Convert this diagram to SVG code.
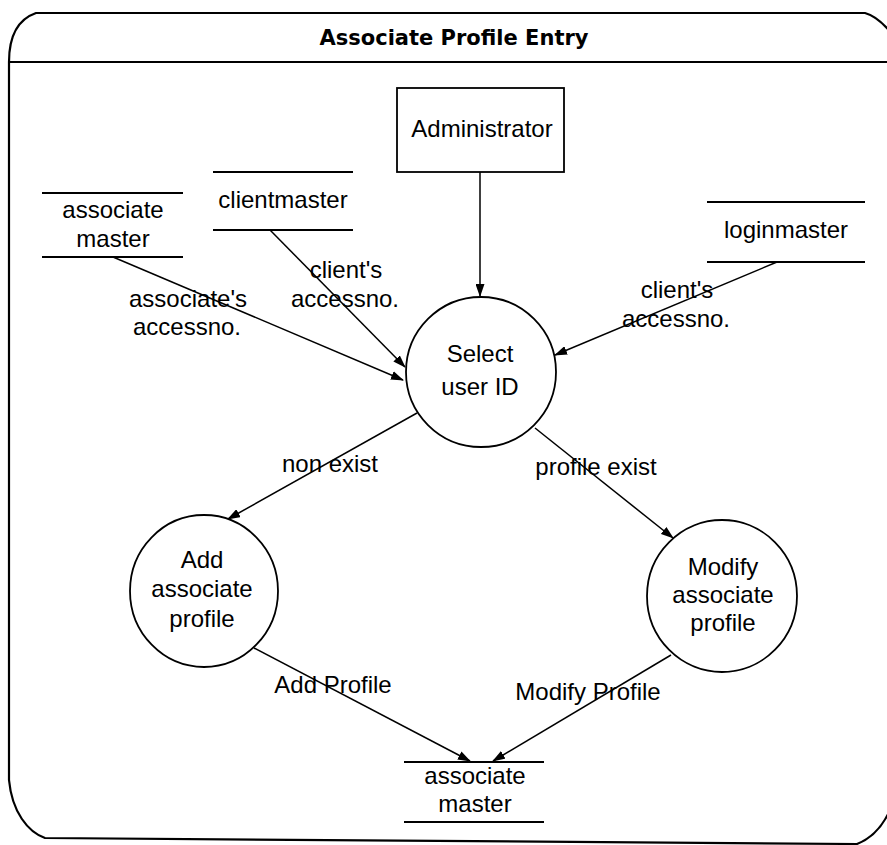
<svg xmlns="http://www.w3.org/2000/svg" width="887" height="845" viewBox="0 0 887 845">
  <style>
    .frame { fill: none; stroke: #000; stroke-width: 2.2; }
    .edge { fill: none; stroke: #000; stroke-width: 1.5; marker-end: url(#arrow); }
    .shape { fill: #fff; stroke: #000; stroke-width: 1.8; }
    .rule { stroke: #000; stroke-width: 1.8; }
    .title { font-family: "DejaVu Sans", Verdana, sans-serif; font-weight: bold; font-size: 21px; text-anchor: middle; fill: #000; }
    .t { font-family: "Liberation Sans", Arial, sans-serif; font-size: 24px; text-anchor: middle; fill: #000; }
  </style>
  <defs>
    <marker id="arrow" markerUnits="userSpaceOnUse" markerWidth="13" markerHeight="9" refX="12" refY="4.5" orient="auto">
      <path d="M0,0 L13,4.5 L0,9 Z" fill="#000"/>
    </marker>
  </defs>
  <rect width="887" height="845" fill="#fff"/>

  <!-- outer rounded frame and title band -->
  <g id="frame">
    <path class="frame" d="M9,780 L9,62 C9,40 16,20 36,13 L865,13 C876,16 884,24 892,34 L892,805 C884,826 872,838 857,844 L45,838 C28,832 12,812 9,780 Z"/>
    <line class="frame" x1="9" y1="62" x2="887" y2="62"/>
    <text class="title" x="454" y="45">Associate Profile Entry</text>
  </g>

  <!-- connectors -->
  <g id="connectors">
    <line class="edge" x1="480" y1="172" x2="480" y2="296"/>
    <line class="edge" x1="113" y1="257" x2="403" y2="380"/>
    <line class="edge" x1="270" y1="230" x2="405" y2="367"/>
    <line class="edge" x1="777" y1="262" x2="555" y2="355"/>
    <line class="edge" x1="417" y1="413" x2="228" y2="519"/>
    <line class="edge" x1="535" y1="428" x2="673" y2="538"/>
    <line class="edge" x1="254" y1="648" x2="470" y2="761"/>
    <line class="edge" x1="671" y1="655" x2="493" y2="761"/>
    <text class="t" x="188" y="307">associate's</text>
    <text class="t" x="187" y="335">accessno.</text>
    <text class="t" x="346" y="278">client's</text>
    <text class="t" x="345" y="307">accessno.</text>
    <text class="t" x="677" y="298">client's</text>
    <text class="t" x="676" y="327">accessno.</text>
    <text class="t" x="330" y="472">non exist</text>
    <text class="t" x="596" y="475">profile exist</text>
    <text class="t" x="333" y="693">Add Profile</text>
    <text class="t" x="588" y="700">Modify Profile</text>
  </g>

  <!-- external entity -->
  <g id="administrator">
    <rect class="shape" x="397" y="88" width="167" height="84"/>
    <text class="t" x="482" y="137">Administrator</text>
  </g>

  <!-- data stores -->
  <g id="store-associate-master-top">
    <line class="rule" x1="42" y1="193" x2="183" y2="193"/>
    <line class="rule" x1="42" y1="257" x2="183" y2="257"/>
    <text class="t" x="113" y="218">associate</text>
    <text class="t" x="113" y="247">master</text>
  </g>
  <g id="store-clientmaster">
    <line class="rule" x1="213" y1="172" x2="353" y2="172"/>
    <line class="rule" x1="213" y1="230" x2="353" y2="230"/>
    <text class="t" x="283" y="208">clientmaster</text>
  </g>
  <g id="store-loginmaster">
    <line class="rule" x1="707" y1="202" x2="865" y2="202"/>
    <line class="rule" x1="707" y1="262" x2="865" y2="262"/>
    <text class="t" x="786" y="238">loginmaster</text>
  </g>
  <g id="store-associate-master-bottom">
    <line class="rule" x1="404" y1="762" x2="544" y2="762"/>
    <line class="rule" x1="404" y1="822" x2="544" y2="822"/>
    <text class="t" x="475" y="784">associate</text>
    <text class="t" x="475" y="812">master</text>
  </g>

  <!-- processes -->
  <g id="select-user-id">
    <circle class="shape" cx="481" cy="372" r="75"/>
    <text class="t" x="480" y="362">Select</text>
    <text class="t" x="480" y="395">user ID</text>
  </g>
  <g id="add-associate-profile">
    <ellipse class="shape" cx="204" cy="591" rx="74" ry="76"/>
    <text class="t" x="202" y="568">Add</text>
    <text class="t" x="202" y="597">associate</text>
    <text class="t" x="202" y="627">profile</text>
  </g>
  <g id="modify-associate-profile">
    <ellipse class="shape" cx="722" cy="596" rx="75" ry="76"/>
    <text class="t" x="723" y="575">Modify</text>
    <text class="t" x="723" y="603">associate</text>
    <text class="t" x="723" y="631">profile</text>
  </g>
</svg>
